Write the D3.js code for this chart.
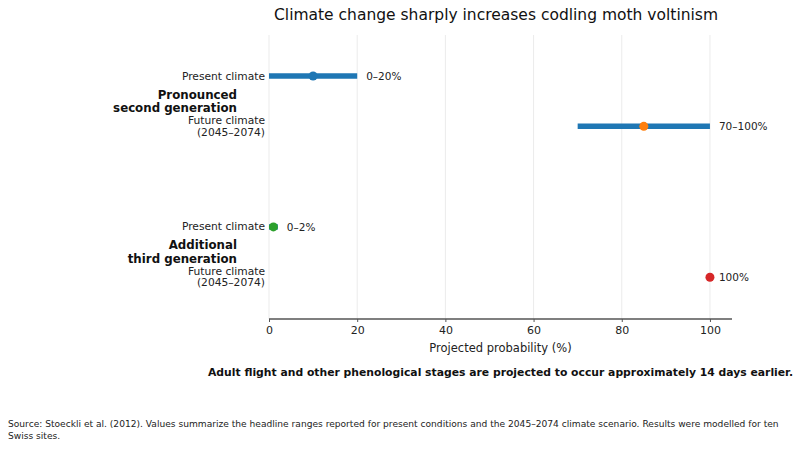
<!DOCTYPE html>
<html>
<head>
<meta charset="utf-8">
<script src="https://cdn.jsdelivr.net/npm/d3@7"></script>
<style>
  body { margin: 0; background: #fff; }
  svg { font-family: "DejaVu Sans", sans-serif; }
</style>
</head>
<body>
<div id="chart"></div>
<script>
// data
var groups = ["Pronounced\nsecond generation", "Additional\nthird generation"];
var rowLabels = ["Present climate", "Future climate\n(2045\u20132074)", "Present climate", "Future climate\n(2045\u20132074)"];
var lows = [0, 70, 0, 100];
var highs = [20, 100, 2, 100];
var mids = [10, 85, 1, 100];
var rangeText = ["0\u201320%", "70\u2013100%", "0\u20132%", "100%"];
var dotColors = ["#1f77b4", "#ff7f0e", "#2ca02c", "#d62728"];
var xTicks = [0, 20, 40, 60, 80, 100];

var W = 800, H = 449;
var margin = {top: 35, left: 269, right: 68, bottom: 130};

var svg = d3.select("#chart").append("svg")
    .attr("width", W)
    .attr("height", H);

var x = d3.scaleLinear().domain([0, 105]).range([margin.left, W - margin.right]);
// row positions: two groups, each with two rows
var y = d3.scaleLinear().domain([-0.815, 4.83]).range([35, 319]);
var rowPos = [0, 1, 3, 4];

// grid
svg.append("g").selectAll("line")
    .data(xTicks)
  .enter().append("line")
    .attr("x1", function(d) { return x(d); })
    .attr("x2", function(d) { return x(d); })
    .attr("y1", y.range()[0])
    .attr("y2", y.range()[1])
    .attr("stroke", "#ebebeb")
    .attr("stroke-width", 1);

// x axis
var axis = svg.append("g")
    .attr("transform", "translate(0," + y.range()[1] + ")")
    .call(d3.axisBottom(x).tickValues(xTicks).tickSize(3).tickPadding(4).tickFormat(d3.format("d")));
axis.select(".domain").attr("stroke", "#555").attr("stroke-width", 1.6).attr("d", "M" + x(0) + ",0H" + x(105));
axis.selectAll(".tick line").attr("stroke", "#555");
axis.selectAll(".tick text").attr("font-size", 11).attr("fill", "#222").attr("font-family", "DejaVu Sans");

svg.append("text")
    .attr("x", (x(0) + x(105)) / 2)
    .attr("y", y.range()[1] + 33)
    .attr("text-anchor", "middle")
    .attr("font-size", 11.5)
    .attr("fill", "#222")
    .text("Projected probability (%)");

// range bars
svg.append("g").selectAll("line")
    .data(d3.range(rowLabels.length).filter(function(i) { return highs[i] > lows[i]; }))
  .enter().append("line")
    .attr("x1", function(i) { return x(lows[i]); })
    .attr("x2", function(i) { return x(highs[i]); })
    .attr("y1", function(i) { return y(rowPos[i]); })
    .attr("y2", function(i) { return y(rowPos[i]); })
    .attr("stroke", "#1f77b4")
    .attr("stroke-width", 5.5);

// midpoint dots
svg.append("g").selectAll("circle")
    .data(d3.range(rowLabels.length))
  .enter().append("circle")
    .attr("cx", function(i) { return x(mids[i]); })
    .attr("cy", function(i) { return y(rowPos[i]); })
    .attr("r", 4.5)
    .attr("fill", function(i) { return dotColors[i]; });

// range labels
svg.append("g").selectAll("text")
    .data(d3.range(rowLabels.length))
  .enter().append("text")
    .attr("x", function(i) { return x(highs[i]) + 9; })
    .attr("y", function(i) { return y(rowPos[i]); })
    .attr("dy", "0.35em")
    .attr("font-size", 10.5)
    .attr("fill", "#222")
    .text(function(i) { return rangeText[i]; });

// row labels
function multiline(sel, str, lh) {
  var parts = str.split("\n");
  var off = -(parts.length - 1) / 2 * lh;
  parts.forEach(function(p, k) {
    sel.append("tspan")
      .attr("x", sel.attr("x"))
      .attr("dy", k === 0 ? (off + 0.35 * lh / 1.15) : lh)
      .text(p);
  });
}

rowLabels.forEach(function(lab, i) {
  var t = svg.append("text")
    .attr("x", x(0) - 4)
    .attr("y", y(rowPos[i]))
    .attr("text-anchor", "end")
    .attr("font-size", 10.7)
    .attr("fill", "#222");
  multiline(t, lab, 11.5);
});

groups.forEach(function(g, k) {
  var t = svg.append("text")
    .attr("x", 237)
    .attr("y", y(rowPos[k * 2] + 0.5))
    .attr("text-anchor", "end")
    .attr("font-size", 11.8)
    .attr("font-weight", "bold")
    .attr("fill", "#111");
  multiline(t, g, 13.5);
});

// title
svg.append("text")
    .attr("x", 496)
    .attr("y", 20)
    .attr("text-anchor", "middle")
    .attr("font-size", 15.5)
    .attr("fill", "#111")
    .text("Climate change sharply increases codling moth voltinism");

// footnote
svg.append("text")
    .attr("x", 208)
    .attr("y", 376)
    .attr("font-size", 10.8)
    .attr("font-weight", "bold")
    .attr("fill", "#111")
    .text("Adult flight and other phenological stages are projected to occur approximately 14 days earlier.");

svg.append("text")
    .attr("x", 8)
    .attr("y", 427)
    .attr("font-size", 9.1)
    .attr("fill", "#222")
    .text("Source: Stoeckli et al. (2012). Values summarize the headline ranges reported for present conditions and the 2045\u20132074 climate scenario. Results were modelled for ten");
svg.append("text")
    .attr("x", 8)
    .attr("y", 439)
    .attr("font-size", 9.1)
    .attr("fill", "#222")
    .text("Swiss sites.");
</script>
</body>
</html>
